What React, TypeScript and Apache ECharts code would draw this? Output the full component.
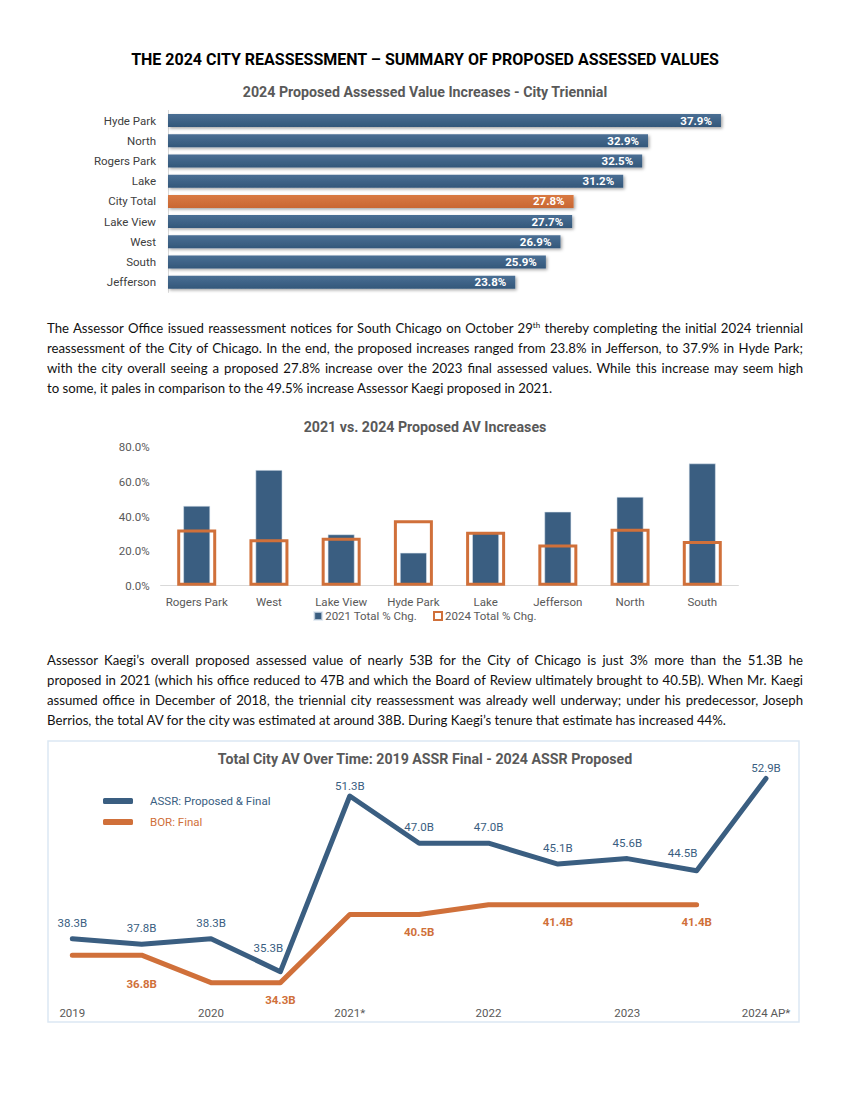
import React, { useEffect, useRef } from "react";
import * as echarts from "echarts";

// ---------- data ----------
const districts1 = ["Hyde Park", "North", "Rogers Park", "Lake", "City Total", "Lake View", "West", "South", "Jefferson"];
const increases2024 = [37.9, 32.9, 32.5, 31.2, 27.8, 27.7, 26.9, 25.9, 23.8];

const districts2 = ["Rogers Park", "West", "Lake View", "Hyde Park", "Lake", "Jefferson", "North", "South"];
const chg2021 = [46.2, 66.9, 29.7, 19.1, 30.9, 42.8, 51.4, 70.7];
const chg2024 = [32.5, 26.9, 27.7, 37.9, 31.2, 23.8, 32.9, 25.9];

const periods = ["2019", "", "2020", "", "2021*", "", "2022", "", "2023", "", "2024 AP*"];
const assr = [38.3, 37.8, 38.3, 35.3, 51.3, 47.0, 47.0, 45.1, 45.6, 44.5, 52.9];
const bor = [36.8, 36.8, 34.3, 34.3, 40.5, 40.5, 41.4, 41.4, 41.4, 41.4, null];
const borLabelIdx = [1, 3, 5, 7, 9];

// ---------- style ----------
const BLUE = "#3a5e81";
const ORANGE = "#d0703a";
const GRAY = "#595959";
const FONT = "Roboto, 'Noto Sans', sans-serif";
const BODY = "Lato, 'Noto Sans', sans-serif";

const blueGrad = new echarts.graphic.LinearGradient(0, 0, 0, 1, [
  { offset: 0, color: "#4a6f94" },
  { offset: 1, color: "#33577a" },
]);
const orangeGrad = new echarts.graphic.LinearGradient(0, 0, 0, 1, [
  { offset: 0, color: "#d97a43" },
  { offset: 1, color: "#c96733" },
]);

const assrLabelTweaks: Record<number, any> = {
  3: { offset: [-12, -8] },
  4: { distance: 3 },
  9: { offset: [-14, -2] },
  10: { distance: 3 },
};
const borLabelTweaks: Record<number, any> = {
  1: { offset: [0, 12] },
};

const chartTitle = { fontSize: 14.2, fontWeight: "bold", color: GRAY, fontFamily: FONT };

function buildOption(): any {
  return {
    animation: false,
    textStyle: { fontFamily: FONT },
    title: [
      {
        text: "2024 Proposed Assessed Value Increases - City Triennial",
        left: "center",
        top: 85,
        padding: 0,
        textStyle: chartTitle,
      },
      {
        text: "2021 vs. 2024 Proposed AV Increases",
        left: "center",
        top: 420,
        padding: 0,
        textStyle: chartTitle,
      },
      {
        text: "Total City AV Over Time: 2019 ASSR Final - 2024 ASSR Proposed",
        left: "center",
        top: 752,
        padding: 0,
        textStyle: chartTitle,
      },
    ],
    legend: [
      {
        left: "center",
        top: 610,
        padding: 0,
        itemWidth: 8,
        itemHeight: 8,
        itemGap: 16,
        textStyle: { color: GRAY, fontSize: 11.5, padding: [0, 0, 0, -2] },
        data: [
          { name: "2021 Total % Chg.", icon: "rect" },
          {
            name: "2024 Total % Chg.",
            icon: "rect",
            itemStyle: { color: "#fff", borderColor: ORANGE, borderWidth: 2 },
          },
        ],
      },
      {
        left: 103,
        top: 795,
        padding: 0,
        orient: "vertical",
        icon: "roundRect",
        itemWidth: 30,
        itemHeight: 6,
        itemGap: 9,
        textStyle: { fontSize: 11.5, padding: [0, 0, 0, 12] },
        data: [
          { name: "ASSR: Proposed & Final", textStyle: { color: BLUE } },
          { name: "BOR: Final", textStyle: { color: ORANGE } },
        ],
      },
    ],
    grid: [
      { left: 168, top: 110.4, width: 583.6, height: 182 },
      { left: 160.6, top: 447.3, width: 577.8, height: 138.4 },
      { left: 72.3, top: 755.4, width: 693.7, height: 247 },
    ],
    xAxis: [
      { gridIndex: 0, type: "value", min: 0, max: 40, show: false },
      {
        gridIndex: 1,
        type: "category",
        data: districts2,
        axisLine: { lineStyle: { color: "#d9d9d9", width: 1 } },
        axisTick: { show: false },
        axisLabel: { color: GRAY, fontSize: 11.5, margin: 10, interval: 0 },
      },
      { gridIndex: 1, type: "category", data: districts2, show: false },
      {
        gridIndex: 2,
        type: "category",
        data: periods,
        boundaryGap: false,
        axisLine: { show: false },
        axisTick: { show: false },
        axisLabel: { color: GRAY, fontSize: 11.5, margin: 5, interval: 0 },
      },
    ],
    yAxis: [
      {
        gridIndex: 0,
        type: "category",
        data: districts1,
        inverse: true,
        axisLine: { lineStyle: { color: "#d9d9d9", width: 1 } },
        axisTick: { show: false },
        axisLabel: { color: "#404040", fontSize: 11.5, margin: 12 },
      },
      {
        gridIndex: 1,
        type: "value",
        min: 0,
        max: 80,
        interval: 20,
        splitLine: { show: false },
        axisLine: { show: false },
        axisTick: { show: false },
        axisLabel: {
          color: GRAY,
          fontSize: 11.5,
          margin: 11,
          formatter: (v: number) => v.toFixed(1) + "%",
        },
      },
      { gridIndex: 2, type: "value", min: 32.5, max: 55, show: false, splitLine: { show: false } },
    ],
    series: [
      {
        type: "bar",
        xAxisIndex: 0,
        yAxisIndex: 0,
        barWidth: 13,
        data: increases2024.map((v, i) =>
          districts1[i] === "City Total" ? { value: v, itemStyle: { color: orangeGrad } } : v
        ),
        itemStyle: {
          color: blueGrad,
          shadowColor: "rgba(0,0,0,0.35)",
          shadowBlur: 3,
          shadowOffsetX: 1.5,
          shadowOffsetY: 1.5,
        },
        label: {
          show: true,
          position: "insideRight",
          distance: 9,
          color: "#fff",
          fontWeight: "bold",
          fontSize: 11.5,
          formatter: (p: any) => Number(p.value).toFixed(1) + "%",
        },
      },
      {
        name: "2021 Total % Chg.",
        type: "bar",
        xAxisIndex: 1,
        yAxisIndex: 1,
        barWidth: 27,
        data: chg2021,
        itemStyle: { color: BLUE, borderColor: "rgba(220,230,240,0.7)", borderWidth: 0.8 },
        z: 2,
      },
      {
        name: "2024 Total % Chg.",
        type: "bar",
        xAxisIndex: 2,
        yAxisIndex: 1,
        barWidth: 39,
        data: chg2024,
        itemStyle: { color: "rgba(0,0,0,0)", borderColor: ORANGE, borderWidth: 3 },
        z: 3,
      },
      {
        name: "ASSR: Proposed & Final",
        type: "line",
        xAxisIndex: 3,
        yAxisIndex: 2,
        color: BLUE,
        symbol: "circle",
        symbolSize: 2,
        showSymbol: true,
        lineStyle: { width: 5, color: BLUE, cap: "round", join: "round" },
        itemStyle: { color: BLUE },
        label: {
          show: true,
          position: "top",
          distance: 9,
          color: BLUE,
          fontSize: 11.5,
          formatter: (p: any) => Number(p.value).toFixed(1) + "B",
        },
        data: assr.map((v, i) => (assrLabelTweaks[i] ? { value: v, label: assrLabelTweaks[i] } : v)),
        z: 3,
      },
      {
        name: "BOR: Final",
        type: "line",
        xAxisIndex: 3,
        yAxisIndex: 2,
        color: ORANGE,
        symbol: "circle",
        symbolSize: 2,
        showSymbol: true,
        lineStyle: { width: 5, color: ORANGE, cap: "round", join: "round" },
        itemStyle: { color: ORANGE },
        label: {
          show: true,
          position: "bottom",
          distance: 10,
          color: ORANGE,
          fontWeight: "bold",
          fontSize: 11.5,
          formatter: (p: any) => Number(p.value).toFixed(1) + "B",
        },
        data: bor.map((v, i) => ({
          value: v,
          label: { show: borLabelIdx.includes(i), ...(borLabelTweaks[i] || {}) },
        })),
        z: 2,
      },
    ],
    graphic: [
      {
        type: "rect",
        shape: { x: 48, y: 741, width: 751, height: 281 },
        style: { fill: "none", stroke: "#dbe8f3", lineWidth: 1.5 },
        silent: true,
      },
    ],
  };
}

const lineStyle: React.CSSProperties = {
  height: 20,
  lineHeight: "20px",
  whiteSpace: "nowrap",
  textAlign: "justify",
  textAlignLast: "justify" as any,
};
const lastLineStyle: React.CSSProperties = {
  height: 20,
  lineHeight: "20px",
  whiteSpace: "nowrap",
  textAlign: "left",
};

const paraStyle: React.CSSProperties = {
  position: "absolute",
  left: 47,
  width: 756,
  fontFamily: BODY,
  fontSize: 13.2,
  color: "#111",
};

export default function App() {
  const ref = useRef<HTMLDivElement>(null);
  useEffect(() => {
    const chart = echarts.init(ref.current as HTMLDivElement, null, { renderer: "svg" });
    chart.setOption(buildOption());
    return () => chart.dispose();
  }, []);
  return (
    <div
      style={{
        position: "absolute",
        left: 0,
        top: 0,
        width: 850,
        height: 1100,
        background: "#fff",
        overflow: "hidden",
      }}
    >
      <div ref={ref} style={{ position: "absolute", left: 0, top: 0, width: 850, height: 1100 }} />
      <div
        style={{
          position: "absolute",
          left: 0,
          top: 50,
          width: 850,
          textAlign: "center",
          fontFamily: FONT,
          fontWeight: "bold",
          fontSize: 16,
          lineHeight: "20px",
          color: "#000",
        }}
      >
        THE 2024 CITY REASSESSMENT – SUMMARY OF PROPOSED ASSESSED VALUES
      </div>
      <div style={{ ...paraStyle, top: 318 }}>
        <div style={lineStyle}>
          The Assessor Office issued reassessment notices for South Chicago on October 29
          <sup style={{ fontSize: 8, lineHeight: 0, verticalAlign: "super" }}>th</sup> thereby completing the initial
          2024 triennial
        </div>
        <div style={lineStyle}>
          reassessment of the City of Chicago. In the end, the proposed increases ranged from 23.8% in Jefferson, to
          37.9% in Hyde Park;
        </div>
        <div style={lineStyle}>
          with the city overall seeing a proposed 27.8% increase over the 2023 final assessed values. While this
          increase may seem high
        </div>
        <div style={lastLineStyle}>
          to some, it pales in comparison to the 49.5% increase Assessor Kaegi proposed in 2021.
        </div>
      </div>
      <div style={{ ...paraStyle, top: 650 }}>
        <div style={lineStyle}>
          Assessor Kaegi’s overall proposed assessed value of nearly 53B for the City of Chicago is just 3% more than
          the 51.3B he
        </div>
        <div style={lineStyle}>
          proposed in 2021 (which his office reduced to 47B and which the Board of Review ultimately brought to
          40.5B). When Mr. Kaegi
        </div>
        <div style={lineStyle}>
          assumed office in December of 2018, the triennial city reassessment was already well underway; under his
          predecessor, Joseph
        </div>
        <div style={lastLineStyle}>
          Berrios, the total AV for the city was estimated at around 38B. During Kaegi’s tenure that estimate has
          increased 44%.
        </div>
      </div>
    </div>
  );
}
